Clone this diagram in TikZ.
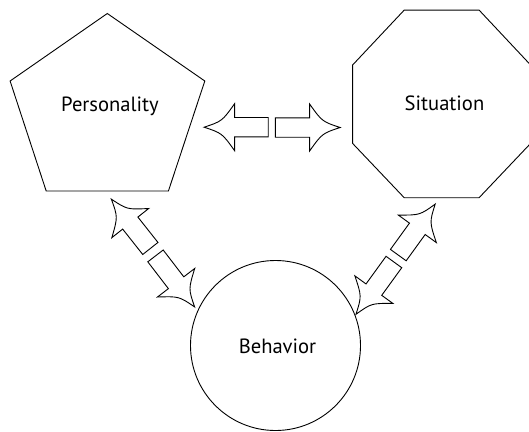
\documentclass[tikz,border=0pt]{standalone}
\usepackage{fontspec}
\setmainfont{PT Sans}
\usetikzlibrary{calc}
\tikzset{
  shapeline/.style={draw=black, line width=0.9pt, line join=miter},
  txt/.style={font=\fontsize{20.6}{24}\selectfont, inner sep=0pt, anchor=base},
  blockarr/.style={draw=black, line width=0.9pt, fill=white, line join=miter},
}
\newcommand\blockarrow[2]{%
  \draw[blockarr] let \p1=($(#2)-(#1)$), \n1={atan2(\y1,\x1)}, \n2={veclen(\x1,\y1)} in
   [shift={(#1)}, rotate=\n1]
   (0,-9.7) -- (\n2-30.5,-9.7) -- (\n2-30.5,-23.5)
   .. controls (\n2-18,-6) .. (\n2,0)
   .. controls (\n2-18,6) .. (\n2-30.5,23.5)
   -- (\n2-30.5,9.7) -- (0,9.7) -- cycle;}
\begin{document}
\begin{tikzpicture}[x=1pt,y=-1pt]
\useasboundingbox (0,0) rectangle (529,431);
% shapes
\draw[shapeline] (107.3,13.5) -- (204.8,81) -- (168.4,191) -- (46.2,191) -- (10.1,81) -- cycle;
\draw[shapeline] (404.2,10.1) -- (479.1,10.1) -- (530.6,65) -- (530.6,143.4) -- (479.1,197.7)
  -- (404.2,197.7) -- (352.6,143.4) -- (352.6,65) -- cycle;
\draw[shapeline] (275.5,345.5) circle[radius=85];
% labels
\node[txt] (P) at (110,111.3) {Personality};
\node[txt] (S) at (444.5,110.7) {Situation};
\node[txt] (B) at (277.5,353.2) {Behavior};
% arrow end points
\coordinate (h1t) at (268.2,127.2); \coordinate (h1h) at (204.1,127.2);
\coordinate (h2t) at (275.3,127.5); \coordinate (h2h) at (340.1,127.5);
\coordinate (d1t) at (150.35,248.45); \coordinate (d1h) at (111.3,199.1);
\coordinate (d2t) at (155.5,255.9); \coordinate (d2h) at (194.7,307);
\coordinate (d3t) at (398.3,255.1); \coordinate (d3h) at (435.2,204.1);
\coordinate (d4t) at (393.9,262); \coordinate (d4h) at (355.9,314.4);
\blockarrow{h1t}{h1h}
\blockarrow{h2t}{h2h}
\blockarrow{d1t}{d1h}
\blockarrow{d2t}{d2h}
\blockarrow{d3t}{d3h}
\blockarrow{d4t}{d4h}
\end{tikzpicture}
\end{document}
